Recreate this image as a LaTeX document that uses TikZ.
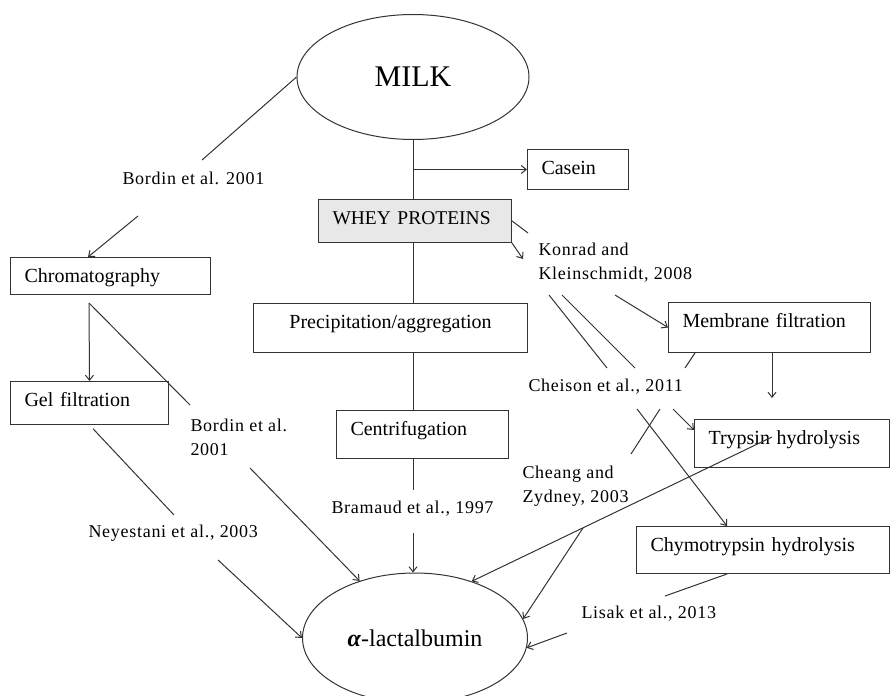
\documentclass[tikz,border=0pt]{standalone}
\usepackage{fontspec}
\setmainfont{Liberation Serif}
\newfontfamily\labfont[LetterSpace=4]{Liberation Serif}
\usetikzlibrary{shapes.geometric,arrows.meta}
\tikzset{
  box/.style={draw=black!80,anchor=north west,inner xsep=14pt,inner ysep=4pt,text height=21pt,align=left,font=\fontsize{20}{24}\selectfont},
  lab/.style={anchor=west,inner sep=0pt,align=left,font=\labfont\fontsize{18}{24}\selectfont},
  wire/.style={draw=black!80}
}

\begin{document}
\begin{tikzpicture}[x=1pt,y=-1pt,line width=1pt,>={Straight Barb[length=5pt,width=8pt]}]
\useasboundingbox (0,0) rectangle (890,695);
\node[draw=black!80,ellipse,minimum width=232pt,minimum height=125pt,font=\fontsize{30}{36}\selectfont](milk) at (413,77){MILK};
\node[box,text width=73pt,text depth=11pt](casein) at (527,149){Casein};
\node[box,fill=gray!18,text width=165pt,text depth=14pt,font=\fontsize{19.5}{24}\selectfont](whey) at (318,199){WHEY PROTEINS};
\node[box,text width=172pt,text depth=8pt](chrom) at (10,257){Chromatography};
\node[box,text width=246pt,text depth=20pt,align=center](precip) at (253,303){Precipitation/aggregation};
\node[box,text width=130pt,text depth=14pt](gel) at (10,381){Gel filtration};
\node[box,text width=144pt,text depth=19pt](centrif) at (336,410){Centrifugation};
\node[box,text width=174pt,text depth=21pt](membrane) at (668,302){Membrane filtration};
\node[box,text width=167pt,text depth=19pt](trypsin) at (694,419){Trypsin hydrolysis};
\node[box,text width=225pt,text depth=18pt](chymo) at (636,526){Chymotrypsin hydrolysis};
\node[draw=black!80,ellipse,minimum width=225pt,minimum height=130pt,font=\fontsize{24}{30}\selectfont](lact) at (415,638){\textbf{\textit{α}}-lactalbumin};

\node[lab](bordina) at (122,178){Bordin et al. 2001};
\node[lab](konrad) at (538,263){Konrad and\\Kleinschmidt, 2008};
\node[lab](bordinb) at (190,437){Bordin et al.\\2001};
\node[lab](neyestani) at (88,533){Neyestani et al., 2003};
\node[lab](bramaud) at (331,509){Bramaud et al., 1997};
\node[lab](cheison) at (528,387){Cheison et al., 2011};
\node[lab](cheang) at (522,486){Cheang and\\Zydney, 2003};
\node[lab](lisak) at (581,614){Lisak et al., 2013};

\coordinate (ba) at (202,160);
\coordinate (bb) at (138,216);
\coordinate (split) at (89,303);
\coordinate (bc) at (190,405);
\coordinate (bd) at (250,468);
\coordinate (na) at (174,515);
\coordinate (nb) at (218,560);
\coordinate (ra) at (413,490);
\coordinate (rb) at (413,533);
\coordinate (wa) at (528,233);
\coordinate (wb) at (523,259);
\coordinate (ka) at (549,295);
\coordinate (kb) at (607,368);
\coordinate (kc) at (562,295);
\coordinate (kd) at (635,368);
\coordinate (ke) at (615,295);
\coordinate (ma) at (685,368);
\coordinate (mb) at (772,398);
\coordinate (ca) at (637,409);
\coordinate (cb) at (660,409);
\coordinate (cc) at (631,454);
\coordinate (cd) at (673,409);
\coordinate (ta) at (772,437);
\coordinate (fork) at (583,528);
\coordinate (la) at (665,596);
\coordinate (lb) at (567,633);

\draw[wire] (milk.south) -- (milk.south |- whey.north);
\draw[wire,->] (milk.south |- casein.west) -- (casein.west);
\draw[wire] (milk.south |- whey.south) -- (milk.south |- precip.north);
\draw[wire] (milk.south |- precip.south) -- (milk.south |- centrif.north);
\draw[wire] (milk.south |- centrif.south) -- (ra);
\draw[wire,->] (rb) -- (rb |- lact.north);

\draw[wire] (milk.west) -- (ba);
\draw[wire,->] (bb) -- ([xshift=78pt]chrom.north west);
\draw[wire,->] (split) -- (gel.north);
\draw[wire] (split) -- (bc);
\draw[wire,->] (bd) -- (lact);
\draw[wire,shorten <=5pt] (gel.south) -- (na);
\draw[wire,->] (nb) -- (lact.west);

\draw[wire] (whey.east) -- (wa);
\draw[wire,->] (whey.south east) -- (wb);
\draw[wire] (ka) -- (kb);
\draw[wire] (kc) -- (kd);
\draw[wire,->] (ke) -- (membrane.west);
\draw[wire] ([xshift=27pt]membrane.south west) -- (ma);
\draw[wire,->] (membrane.south -| mb) -- (mb);
\draw[wire,->] (ca) -- ([xshift=91pt]chymo.north west);
\draw[wire] (cb) -- (cc);
\draw[wire,->] (cd) -- ([yshift=-11pt]trypsin.north west);
\draw[wire,->] (ta) -- (lact.45);
\draw[wire,->] (fork) -- (lact.10);
\draw[wire] ([xshift=91pt]chymo.south west) -- (la);
\draw[wire,->] (lb) -- (lact.-5);
\end{tikzpicture}
\end{document}
